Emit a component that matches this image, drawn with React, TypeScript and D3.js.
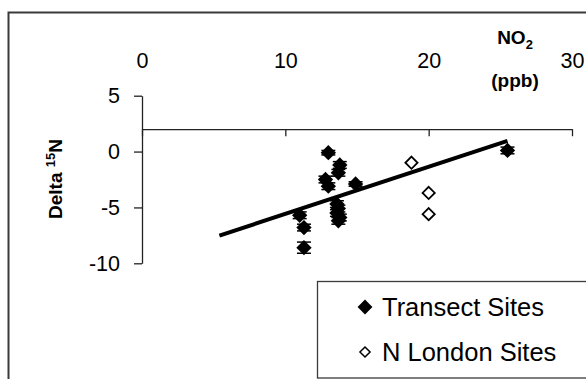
import React, { useEffect, useRef } from 'react';
import * as d3 from 'd3';

// NO2 (ppb) vs delta 15N
const transectNO2 = [13.0, 13.8, 13.7, 12.8, 13.0, 14.9, 13.6, 13.7, 13.6, 13.8, 13.7, 11.0, 11.3, 11.3, 25.5];
const transectDelta = [-0.1, -1.2, -1.9, -2.5, -3.1, -2.9, -4.7, -5.1, -5.5, -5.9, -6.2, -5.7, -6.8, -8.6, 0.1];
const transectErr = [0.2, 0.3, 0.3, 0.3, 0.3, 0.2, 0.3, 0.3, 0.3, 0.3, 0.3, 0.3, 0.3, 0.5, 0.3];

const londonNO2 = [18.8, 20.0, 20.0];
const londonDelta = [-1.0, -3.7, -5.6];

// regression through transect sites
const trendNO2 = [5.4, 25.5];
const trendSlope = 0.422;
const trendIntercept = -9.8;

const xTicks = [0, 10, 20, 30];
const yTicks = [-10, -5, 0, 5];

const legendLabels = ['Transect Sites', 'N London Sites'];

const FONT = '"Liberation Sans", Arial, sans-serif';

const App = () => {
  const ref = useRef<SVGSVGElement>(null);

  useEffect(() => {
    const svg = d3.select(ref.current);
    svg.selectAll('*').remove();

    const x = d3.scaleLinear().domain([0, 30]).range([142, 572]);
    const y = d3.scaleLinear().domain([-10, 5]).range([263.3, 95.7]);
    const xAxisAt = 2;

    // outer chart border (cut off at right / bottom)
    svg.append('rect')
      .attr('x', 8.5).attr('y', 12.5)
      .attr('width', 620).attr('height', 420)
      .style('fill', 'none').style('stroke', '#3a3a3a').style('stroke-width', 2);

    // y axis
    const yAxis = svg.append('g')
      .attr('transform', `translate(${x(0)},0)`)
      .call(d3.axisLeft(y).tickValues(yTicks).tickSize(8).tickSizeOuter(0).tickPadding(14)
        .tickFormat(d => String(d)));
    yAxis.select('.domain').style('stroke', '#222').style('stroke-width', 1.3);
    yAxis.selectAll('.tick line').style('stroke', '#222').style('stroke-width', 1.3);
    yAxis.selectAll('text')
      .style('font-family', FONT).style('font-size', '21.5px').style('fill', '#000');

    // x axis: ticks point down, labels sit above
    const xAxis = svg.append('g')
      .attr('transform', `translate(0,${y(xAxisAt)})`)
      .call(d3.axisBottom(x).tickValues(xTicks).tickSize(7).tickSizeOuter(0)
        .tickFormat(d => String(d)));
    xAxis.select('.domain').style('stroke', '#222').style('stroke-width', 1.3);
    xAxis.selectAll('.tick line').style('stroke', '#222').style('stroke-width', 1.3);
    xAxis.selectAll('text')
      .attr('y', -61).attr('dy', 0)
      .style('font-family', FONT).style('font-size', '21.5px').style('fill', '#000');

    // axis titles
    const yTitle = svg.append('text')
      .attr('transform', `translate(62,179) rotate(-90)`)
      .attr('text-anchor', 'middle')
      .style('font-family', FONT).style('font-weight', 'bold').style('font-size', '19px');
    yTitle.append('tspan').text('Delta ');
    yTitle.append('tspan').attr('dy', -7).style('font-size', '13px').text('15');
    yTitle.append('tspan').attr('dy', 7).text('N');

    const xTitle = svg.append('text')
      .attr('x', 515).attr('y', 44)
      .attr('text-anchor', 'middle')
      .style('font-family', FONT).style('font-weight', 'bold').style('font-size', '19px');
    xTitle.append('tspan').text('NO');
    xTitle.append('tspan').attr('dy', 5).style('font-size', '13px').text('2');
    svg.append('text')
      .attr('x', 515).attr('y', 87)
      .attr('text-anchor', 'middle')
      .style('font-family', FONT).style('font-weight', 'bold').style('font-size', '19px')
      .text('(ppb)');

    // trend line
    const line = d3.line<number>()
      .x(d => x(d))
      .y(d => y(trendSlope * d + trendIntercept));
    svg.append('path')
      .attr('d', line(trendNO2))
      .style('fill', 'none').style('stroke', '#000').style('stroke-width', 4);

    const transect = transectNO2.map((v, i) => ({ no2: v, delta: transectDelta[i], err: transectErr[i] }));
    const london = londonNO2.map((v, i) => ({ no2: v, delta: londonDelta[i] }));

    // error bars
    const eb = svg.append('g').selectAll('g').data(transect).enter().append('g');
    eb.append('line')
      .attr('x1', d => x(d.no2)).attr('x2', d => x(d.no2))
      .attr('y1', d => y(d.delta + d.err)).attr('y2', d => y(d.delta - d.err))
      .style('stroke', '#000').style('stroke-width', 1.5);
    [1, -1].forEach(s => {
      eb.append('line')
        .attr('x1', d => x(d.no2) - 7).attr('x2', d => x(d.no2) + 7)
        .attr('y1', d => y(d.delta + s * d.err)).attr('y2', d => y(d.delta + s * d.err))
        .style('stroke', '#000').style('stroke-width', 1.5);
    });

    const filled = d3.symbol().type(d3.symbolDiamond2).size(150);
    const hollow = d3.symbol().type(d3.symbolDiamond2).size(95);

    svg.append('g').selectAll('path').data(transect).enter().append('path')
      .attr('transform', d => `translate(${x(d.no2)},${y(d.delta)})`)
      .attr('d', filled())
      .style('fill', '#000');

    svg.append('g').selectAll('path').data(london).enter().append('path')
      .attr('transform', d => `translate(${x(d.no2)},${y(d.delta)})`)
      .attr('d', hollow())
      .style('fill', '#fff').style('stroke', '#000').style('stroke-width', 1.8);

    // legend
    const legend = svg.append('g');
    legend.append('rect')
      .attr('x', 317.5).attr('y', 281.5).attr('width', 300).attr('height', 96.5)
      .style('fill', '#fff').style('stroke', '#3a3a3a').style('stroke-width', 1.3);
    const items = legend.selectAll('.legend-item').data(legendLabels).enter().append('g')
      .attr('class', 'legend-item')
      .attr('transform', (d, i) => `translate(365,${307 + i * 45})`);
    items.append('path')
      .attr('d', (d, i) => (i === 0 ? d3.symbol().type(d3.symbolDiamond2).size(140)() : d3.symbol().type(d3.symbolDiamond2).size(65)()))
      .style('fill', (d, i) => (i === 0 ? '#000' : '#fff'))
      .style('stroke', '#000')
      .style('stroke-width', (d, i) => (i === 0 ? 0 : 1.5));
    items.append('text')
      .attr('x', 17).attr('dy', '0.36em')
      .style('font-family', FONT).style('font-size', '25.5px').style('fill', '#000')
      .text(d => d);
  }, []);

  return (
    <svg ref={ref} width={586} height={379} style={{ position: 'absolute', left: 0, top: 0, background: '#fff' }} />
  );
};

export default App;
